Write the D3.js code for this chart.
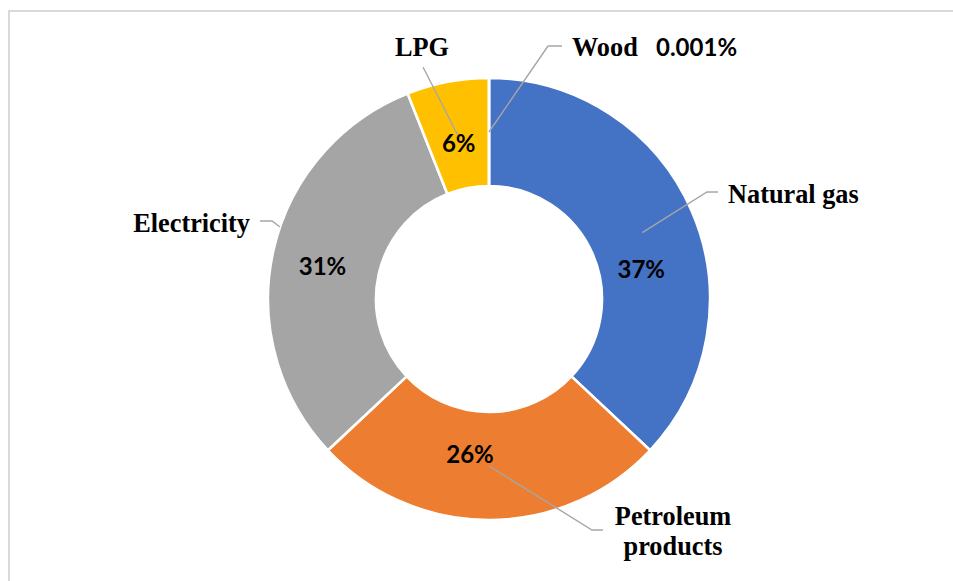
<!DOCTYPE html>
<html>
<head>
<meta charset="utf-8">
<script src="https://cdn.jsdelivr.net/npm/d3@7/dist/d3.min.js"></script>
<style>
  html, body { margin: 0; padding: 0; background: #fff; }
  svg { display: block; }
</style>
</head>
<body>
<svg id="chart" width="953" height="581"></svg>
<script>
// ---- data ----
const categories = ["Natural gas", "Petroleum products", "Electricity", "LPG", "Wood"];
const values = [37, 26, 31, 6, 0.001];
const percentLabels = ["37%", "26%", "31%", "6%", "0.001%"];
const colors = ["#4472C4", "#ED7D31", "#A5A5A5", "#FFC000", "#5B9BD5"];

// ---- layout ----
const W = 953, H = 581;
const cx = 489, cy = 299;
const outerR = 221, innerR = 113;

const svg = d3.select("#chart");

// chart area border (light gray)
svg.append("line").attr("x1", 8).attr("y1", 11).attr("x2", W).attr("y2", 11)
  .attr("stroke", "#d9d9d9").attr("stroke-width", 2);
svg.append("line").attr("x1", 9).attr("y1", 10).attr("x2", 9).attr("y2", H)
  .attr("stroke", "#d9d9d9").attr("stroke-width", 2);

const g = svg.append("g").attr("transform", `translate(${cx},${cy})`);

const pie = d3.pie().sort(null).value(d => d.v);
const data = categories.map((c, i) => ({ c, v: values[i], p: percentLabels[i], col: colors[i] }));
const arcs = pie(data);
const arc = d3.arc().innerRadius(innerR).outerRadius(outerR);

g.selectAll("path.slice").data(arcs).enter().append("path")
  .attr("class", "slice")
  .attr("d", arc)
  .attr("fill", d => d.data.col)
  .attr("stroke", "#fff")
  .attr("stroke-width", 2.6)
  .attr("stroke-linejoin", "miter");

// label placement (relative to chart center)
// leader: list of points; "C" = arc centroid of slice
const labelLayout = {
  "Natural gas": { lines: ["Natural gas"], x: 239, y: -96, anchor: "start",
                   leader: ["C", [218, -107], [229, -107]] },
  "Petroleum products": { lines: ["Petroleum", "products"], x: 184, y: 226, anchor: "middle",
                   leader: ["C", [103, 231], [114, 231]] },
  "Electricity": { lines: ["Electricity"], x: -239, y: -67, anchor: "end",
                   leader: [[-229, -78], [-217, -78], [-209, -72]] },
  "LPG": { lines: ["LPG"], x: -67, y: -243, anchor: "middle",
                   leader: [[-66, -232], "C"] },
  "Wood": { lines: ["Wood"], x: 83, y: -243, anchor: "start",
                   leader: ["C", [59, -253], [73, -253]], extra: { text: "0.001%", x: 167 } }
};
// percent label offsets from centroid
const pctOffset = {
  "Natural gas": [-1, 45],
  "Petroleum products": [-19, -3],
  "Electricity": [-3.5, 12],
  "LPG": [1, 17]
};

const line = d3.line();
arcs.forEach(a => {
  const L = labelLayout[a.data.c];
  const cen = arc.centroid(a);
  const pts = L.leader.map(p => p === "C" ? cen : p);
  g.append("path").attr("d", line(pts))
    .attr("fill", "none").attr("stroke", "#a6a6a6").attr("stroke-width", 1.4);
});

arcs.forEach(a => {
  const L = labelLayout[a.data.c];
  const t = g.append("text")
    .attr("x", L.x).attr("y", L.y)
    .attr("text-anchor", L.anchor)
    .attr("font-family", "'Liberation Serif', 'Times New Roman', serif")
    .attr("font-weight", "bold")
    .attr("font-size", 26.3)
    .attr("fill", "#000");
  L.lines.forEach((s, i) => {
    t.append("tspan").attr("x", L.x).attr("dy", i === 0 ? 0 : 30).text(s);
  });
  if (L.extra) {
    g.append("text").attr("x", L.extra.x).attr("y", L.y)
      .attr("font-family", "Lato, 'Open Sans', sans-serif")
      .attr("font-weight", "bold").attr("font-size", 24)
      .attr("fill", "#000").text(L.extra.text);
  }
  const off = pctOffset[a.data.c];
  if (off) {
    const cen = arc.centroid(a);
    g.append("text")
      .attr("x", cen[0] + off[0]).attr("y", cen[1] + off[1])
      .attr("text-anchor", "middle")
      .attr("font-family", "Lato, 'Open Sans', sans-serif")
      .attr("font-weight", "bold").attr("font-size", 24)
      .attr("fill", "#000").text(a.data.p);
  }
});
</script>
</body>
</html>
